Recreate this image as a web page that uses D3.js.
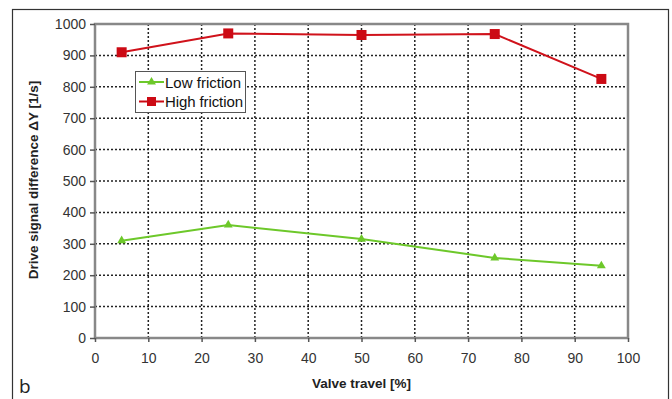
<!DOCTYPE html>
<html>
<head>
<meta charset="utf-8">
<script src="https://cdn.jsdelivr.net/npm/d3@7"></script>
<style>
  body { margin: 0; background: #fff; }
  text { font-family: "Liberation Sans", Arial, sans-serif; }
</style>
</head>
<body>
<script>
// chart data
var travel = [5, 25, 50, 75, 95];
var lowFriction = [310, 360, 315, 255, 230];
var highFriction = [910, 970, 965, 968, 825];
var xTicks = [0, 10, 20, 30, 40, 50, 60, 70, 80, 90, 100];
var yTicks = [0, 100, 200, 300, 400, 500, 600, 700, 800, 900, 1000];

var width = 672, height = 399;
var margin = {left: 95, right: 44, top: 24, bottom: 61};

var svg = d3.select('body').append('svg')
    .attr('width', width)
    .attr('height', height);

// outer frame
svg.append('rect')
    .attr('x', 12.5).attr('y', 9.5)
    .attr('width', 656).attr('height', 400)
    .attr('fill', 'none')
    .attr('stroke', '#333')
    .attr('stroke-width', 1.2);

var x = d3.scaleLinear().domain([0, 100]).range([margin.left, width - margin.right]);
var y = d3.scaleLinear().domain([0, 1000]).range([height - margin.bottom, margin.top]);

// dotted grid
svg.append('g').selectAll('line').data(xTicks.slice(1, -1)).join('line')
    .attr('x1', d => x(d)).attr('x2', d => x(d))
    .attr('y1', y(1000)).attr('y2', y(0))
    .attr('stroke', '#222').attr('stroke-width', 1.5)
    .attr('stroke-dasharray', '2,2');
svg.append('g').selectAll('line').data(yTicks.slice(1, -1)).join('line')
    .attr('x1', x(0)).attr('x2', x(100))
    .attr('y1', d => y(d)).attr('y2', d => y(d))
    .attr('stroke', '#222').attr('stroke-width', 1.5)
    .attr('stroke-dasharray', '2,2');

// plot border
svg.append('rect')
    .attr('x', x(0)).attr('y', y(1000))
    .attr('width', x(100) - x(0)).attr('height', y(0) - y(1000))
    .attr('fill', 'none')
    .attr('stroke', '#888')
    .attr('stroke-width', 2.5);

// axes
var xAxis = svg.append('g')
    .attr('transform', 'translate(0,' + y(0) + ')')
    .call(d3.axisBottom(x).tickValues(xTicks).tickFormat(d3.format('d')).tickSize(4).tickPadding(11));
var yAxis = svg.append('g')
    .attr('transform', 'translate(' + x(0) + ',0)')
    .call(d3.axisLeft(y).tickValues(yTicks).tickFormat(d3.format('d')).tickSize(5).tickPadding(4));

[xAxis, yAxis].forEach(function(a) {
    a.select('.domain').remove();
    a.selectAll('line').attr('stroke', '#555').attr('stroke-width', 1.5);
    a.selectAll('text')
        .attr('fill', '#333')
        .style('font-size', '14px');
});

// series
var line = d3.line()
    .x((d, i) => x(travel[i]))
    .y(d => y(d));

svg.append('path')
    .datum(lowFriction)
    .attr('d', line)
    .attr('fill', 'none')
    .attr('stroke', '#6dc82a')
    .attr('stroke-width', 2);
svg.append('path')
    .datum(highFriction)
    .attr('d', line)
    .attr('fill', 'none')
    .attr('stroke', '#d0121b')
    .attr('stroke-width', 2);

var tri = d3.symbol().type(d3.symbolTriangle).size(34);
svg.append('g').selectAll('path').data(lowFriction).join('path')
    .attr('transform', (d, i) => 'translate(' + x(travel[i]) + ',' + y(d) + ')')
    .attr('d', tri)
    .attr('fill', '#6dc82a');

svg.append('g').selectAll('rect').data(highFriction).join('rect')
    .attr('x', (d, i) => x(travel[i]) - 5)
    .attr('y', d => y(d) - 5)
    .attr('width', 10).attr('height', 10)
    .attr('fill', '#cc0a14');

// legend
var legend = svg.append('g');
legend.append('rect')
    .attr('x', 135.5).attr('y', 71.5)
    .attr('width', 110).attr('height', 41)
    .attr('fill', '#fff')
    .attr('stroke', '#555')
    .attr('stroke-width', 1);

var entries = [
    {name: 'Low friction', color: '#6dc82a', shape: 'tri'},
    {name: 'High friction', color: '#cc0a14', shape: 'sq'}
];
entries.forEach(function(e, i) {
    var ly = 82 + i * 19.5;
    legend.append('line')
        .attr('x1', 139).attr('x2', 164)
        .attr('y1', ly).attr('y2', ly)
        .attr('stroke', e.color).attr('stroke-width', 2);
    if (e.shape === 'tri') {
        legend.append('path')
            .attr('transform', 'translate(151.5,' + ly + ')')
            .attr('d', tri)
            .attr('fill', e.color);
    } else {
        legend.append('rect')
            .attr('x', 147).attr('y', ly - 4.5)
            .attr('width', 9).attr('height', 9)
            .attr('fill', e.color);
    }
    legend.append('text')
        .attr('x', 165).attr('y', ly + 5.5)
        .style('font-size', '15px')
        .attr('textLength', i === 0 ? 76 : 78)
        .attr('fill', '#111')
        .text(e.name);
});

// axis titles
svg.append('text')
    .attr('x', (x(0) + x(100)) / 2)
    .attr('y', 388)
    .attr('text-anchor', 'middle')
    .style('font-size', '13.5px')
    .style('font-weight', 'bold')
    .attr('fill', '#222')
    .text('Valve travel [%]');

svg.append('text')
    .attr('transform', 'translate(38,180) rotate(-90)')
    .attr('text-anchor', 'middle')
    .style('font-size', '13.5px')
    .style('font-weight', 'bold')
    .attr('fill', '#222')
    .text('Drive signal difference \u0394Y [1/s]');

// panel letter
svg.append('text')
    .attr('x', 19).attr('y', 393)
    .style('font-size', '19px')
    .style('font-family', '"Open Sans", sans-serif')
    .attr('fill', '#222')
    .text('b');
</script>
</body>
</html>
